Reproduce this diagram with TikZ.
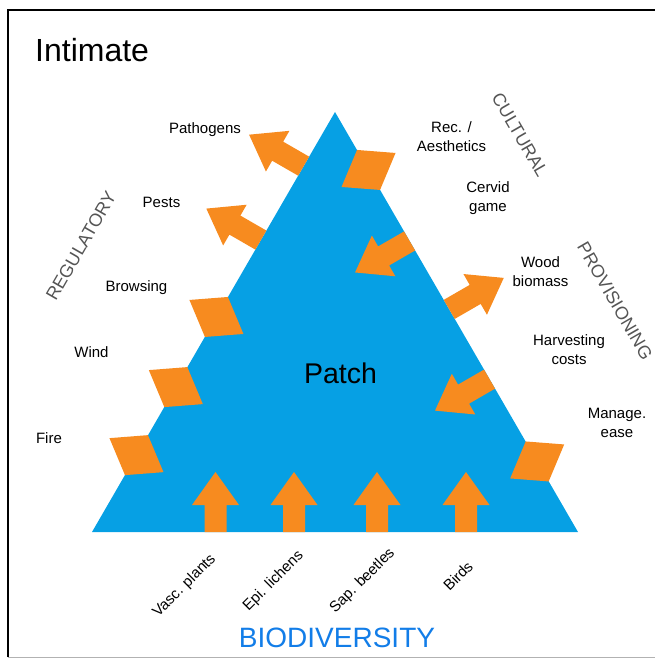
\documentclass[tikz,border=0pt]{standalone}
\usepackage{fontspec}
\setmainfont{Liberation Sans}
\usetikzlibrary{calc}
\definecolor{patchblue}{RGB}{6,160,228}
\definecolor{fluxorange}{RGB}{247,139,31}
\definecolor{axisgray}{RGB}{85,85,85}
\definecolor{biodblue}{RGB}{18,125,232}
\begin{document}
\begin{tikzpicture}[x=1pt,y=-1pt]
  \tikzstyle{flux}=[fill=fluxorange]
  \tikzstyle{service}=[inner sep=0pt,font=\fontsize{15}{19}\selectfont,align=center]
  \tikzstyle{axis}=[inner sep=0pt,font=\fontsize{18}{20}\selectfont,text=axisgray]
  \tikzstyle{taxon}=[inner sep=0pt,font=\fontsize{15}{18}\selectfont,rotate=45]
  \tikzset{
    fatarrow/.pic={\fill[flux] (0,-11) -- (#1,-11) -- (#1,-23.5) -- ({#1+33},0) -- (#1,23.5) -- (#1,11) -- (0,11) -- cycle;},
    rhomb/.pic={\fill[flux] (-27,-17) -- (11.5,-20) -- (27,17) -- (-11.5,20) -- cycle;}
  }
  \useasboundingbox (0,0) rectangle (654,658);
  \draw[line width=1.6pt] (8,657) -- (8,10) -- (660,10);
  \draw[gray!60,line width=1pt] (8,657) -- (660,657);

  \node [anchor=base west,inner sep=0pt,font=\fontsize{32}{36}\selectfont] (title) at (35,62) {Intimate};

  % the patch
  \coordinate (apex) at (335,112);
  \coordinate (bl) at (92,532);
  \coordinate (br) at (578,532);
  \fill[patchblue] (apex) -- (br) -- (bl) -- cycle;
  \node [anchor=base,inner sep=0pt,font=\fontsize{28.5}{32}\selectfont] (patch) at (340.5,383) {Patch};

  % regulatory side
  \coordinate (pathogens-in) at ($(apex)!0.129!(bl)$);
  \coordinate (pests-in) at ($(apex)!0.305!(bl)$);
  \coordinate (browsing-in) at ($(apex)!0.488!(bl)$);
  \coordinate (wind-in) at ($(apex)!0.655!(bl)$);
  \coordinate (fire-in) at ($(apex)!0.817!(bl)$);
  \pic [rotate=150] at (pathogens-in) {fatarrow=30};
  \pic [rotate=150] at (pests-in) {fatarrow=30};
  \pic at (browsing-in) {rhomb};
  \pic at (wind-in) {rhomb};
  \pic at (fire-in) {rhomb};

  % cultural and provisioning side
  \coordinate (rec-in) at ($(apex)!0.138!(br)$);
  \coordinate (cervid-in) at ($(apex)!0.307!(br)$);
  \coordinate (wood-in) at ($(apex)!0.470!(br)$);
  \coordinate (harvest-in) at ($(apex)!0.636!(br)$);
  \coordinate (manage-in) at ($(apex)!0.832!(br)$);
  \pic [xscale=-1] at (rec-in) {rhomb};
  \pic [rotate=210] at (cervid-in) {fatarrow=30};
  \pic [rotate=30] at (wood-in) {fatarrow=30};
  \pic [rotate=210] at (harvest-in) {fatarrow=30};
  \pic [xscale=-1] at (manage-in) {rhomb};

  % biodiversity side
  \coordinate (vasc-in) at (215.5,532);
  \coordinate (epi-in) at (294,532);
  \coordinate (sap-in) at (377,532);
  \coordinate (birds-in) at (466,532);
  \foreach \c in {vasc-in,epi-in,sap-in,birds-in}
    \pic [rotate=90] at (\c) {fatarrow=27};

  \node [service,anchor=base] (pathogens) at (205,133) {Pathogens};
  \node [service,anchor=base] (pests) at (161.5,207) {Pests};
  \node [service,anchor=base] (browsing) at (136.5,291) {Browsing};
  \node [service,anchor=base] (wind) at (91.5,357) {Wind};
  \node [service,anchor=base] (fire) at (49,443) {Fire};

  \node [service] (rec) at (451.5,137) {Rec. /\\Aesthetics};
  \node [service] (cervid) at (488,198.5) {Cervid\\game};
  \node [service] (wood) at (540.5,272) {Wood\\biomass};
  \node [service] (harvest) at (569,350) {Harvesting\\costs};
  \node [service] (manage) at (617,423) {Manage.\\ease};

  \node [axis,rotate=60] (regulatory) at (81,246) {REGULATORY};
  \node [axis,rotate=-60] (cultural) at (520,135) {CULTURAL};
  \node [axis,rotate=-60] (provisioning) at (615,301) {PROVISIONING};

  \node [taxon] (vasc) at (184.5,586) {Vasc. plants};
  \node [taxon] (epi) at (273.5,581) {Epi. lichens};
  \node [taxon] (sap) at (362.5,581) {Sap. beetles};
  \node [taxon] (birds) at (458,576) {Birds};
  \node [anchor=base,inner sep=0pt,text=biodblue,font=\fontsize{28}{32}\selectfont] (biodiversity) at (337,647) {BIODIVERSITY};
\end{tikzpicture}
\end{document}
